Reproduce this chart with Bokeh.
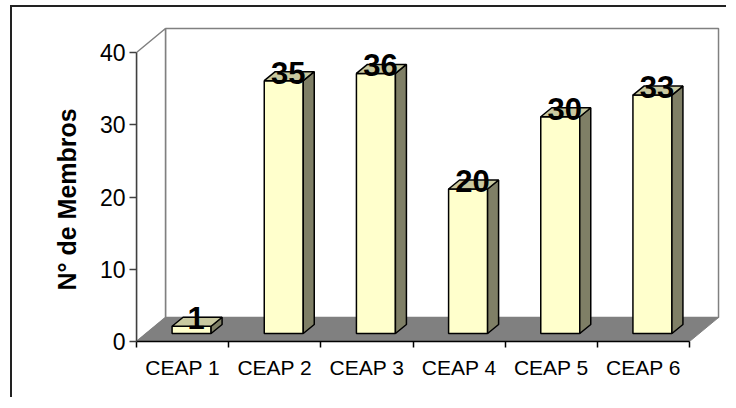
from bokeh.plotting import figure
from bokeh.models import FixedTicker, Title
from bokeh.embed import file_html
from bokeh.resources import INLINE
from bokeh.core.properties import value

# ---- data ----
categories = ["CEAP 1", "CEAP 2", "CEAP 3", "CEAP 4", "CEAP 5", "CEAP 6"]
members = [1, 35, 36, 20, 30, 33]
y_ticks = [0, 10, 20, 30, 40]
y_title = "N° de Membros"

# ---- geometry (pixel scales used to express 3D depth in data units) ----
W, H = 716, 392
ML, MR, MT, MB = 124, 2, 13, 58
n = len(categories)
ymax = 40
SX = 92.17   # px per category
SY = 7.225   # px per value unit
x_end = (W - ML - MR) / SX
y_end = (H - MT - MB) / SY

DX, DY = 29 / SX, 24 / SY          # full depth of the chart box
FX, FY = 9 / SX, 8 / SY            # bar front-face depth shift
BX, BY = 11 / SX, 9 / SY           # bar depth
HW = 19.5 / SX                     # half width of bar front

FONT = "Liberation Sans"

p = figure(width=W, height=H, output_backend="svg", toolbar_location=None,
           x_range=(0, x_end), y_range=(0, y_end),
           min_border_left=ML, min_border_right=MR, min_border_top=MT,
           min_border_bottom=MB)
p.styles = {"margin-left": "10px", "margin-top": "5px",
            "border-left": "2px solid #222222", "border-top": "2px solid #222222"}
p.outline_line_color = None
p.xgrid.visible = False
p.ygrid.visible = False
p.background_fill_color = "white"
p.border_fill_color = "white"

wall_color = "#808080"
# back wall
p.patch([DX, n + DX, n + DX, DX], [DY, DY, ymax + DY, ymax + DY],
        fill_color="white", line_color=wall_color, line_width=1.5)
# left wall
p.patch([0, DX, DX, 0], [0, DY, ymax + DY, ymax],
        fill_color="white", line_color=wall_color, line_width=1.5)
# floor
p.patch([0, n, n + DX, DX], [0, 0, DY, DY],
        fill_color="#808080", line_color="#808080", line_width=1)

# bars
front_l, front_r, bot, top = [], [], [], []
top_xs, top_ys, side_xs, side_ys = [], [], [], []
lab_x, lab_y, lab_t = [], [], []
for i, v in enumerate(members):
    cx = i + 0.5 + FX
    xl, xr = cx - HW, cx + HW
    yb, yt = FY, v + FY
    front_l.append(xl); front_r.append(xr); bot.append(yb); top.append(yt)
    top_xs.append([xl, xr, xr + BX, xl + BX])
    top_ys.append([yt, yt, yt + BY, yt + BY])
    side_xs.append([xr, xr + BX, xr + BX, xr])
    side_ys.append([yb, yb + BY, yt + BY, yt])
    lab_x.append(cx + BX / 2 - 1 / SX)
    lab_y.append(yt + BY / 2 + 3.5 / SY)
    lab_t.append(str(v))

p.quad(left=front_l, right=front_r, bottom=bot, top=top,
       fill_color="#FFFFCC", line_color="black", line_width=1.5)
p.patches(side_xs, side_ys, fill_color="#7F7F66", line_color="black", line_width=1.5)
p.patches(top_xs, top_ys, fill_color="#C9C9A0", line_color="black", line_width=1.5)

p.text(x=lab_x, y=lab_y, text=lab_t, text_align="center", text_baseline="alphabetic",
       text_font=value(FONT), text_font_style="bold", text_font_size="31px",
       text_color="black")

# y axis
ya = p.yaxis[0]
ya.ticker = FixedTicker(ticks=y_ticks)
ya.bounds = (0, ymax)
ya.axis_line_color = "#404040"
ya.axis_line_width = 1.5
ya.major_tick_line_color = "#404040"
ya.major_tick_line_width = 1.5
ya.major_tick_out = 7
ya.major_tick_in = 0
ya.minor_tick_out = 0
ya.minor_tick_in = 0
ya.major_label_standoff = 4
ya.major_label_text_font = FONT
ya.major_label_text_font_size = "23px"
ya.major_label_text_color = "black"

# y title, aligned to the 0..40 span of the axis
p.add_layout(Title(text=y_title, align="left", offset=51, standoff=32,
                   text_font=FONT, text_font_style="bold", text_font_size="25px",
                   text_color="black"), "left")

# x axis
xa = p.xaxis[0]
centers = [i + 0.5 for i in range(n)]
xa.ticker = FixedTicker(ticks=centers, minor_ticks=list(range(n + 1)))
xa.major_label_overrides = {c: lab for c, lab in zip(centers, categories)}
xa.bounds = (0, n)
xa.axis_line_color = "black"
xa.axis_line_width = 1.5
xa.major_tick_out = 0
xa.major_tick_in = 0
xa.minor_tick_out = 6
xa.minor_tick_in = 0
xa.minor_tick_line_color = "black"
xa.minor_tick_line_width = 1.5
xa.major_label_standoff = 8
xa.major_label_text_font = FONT
xa.major_label_text_font_size = "21px"
xa.major_label_text_color = "black"

open("out.html", "w").write(file_html(p, INLINE))
